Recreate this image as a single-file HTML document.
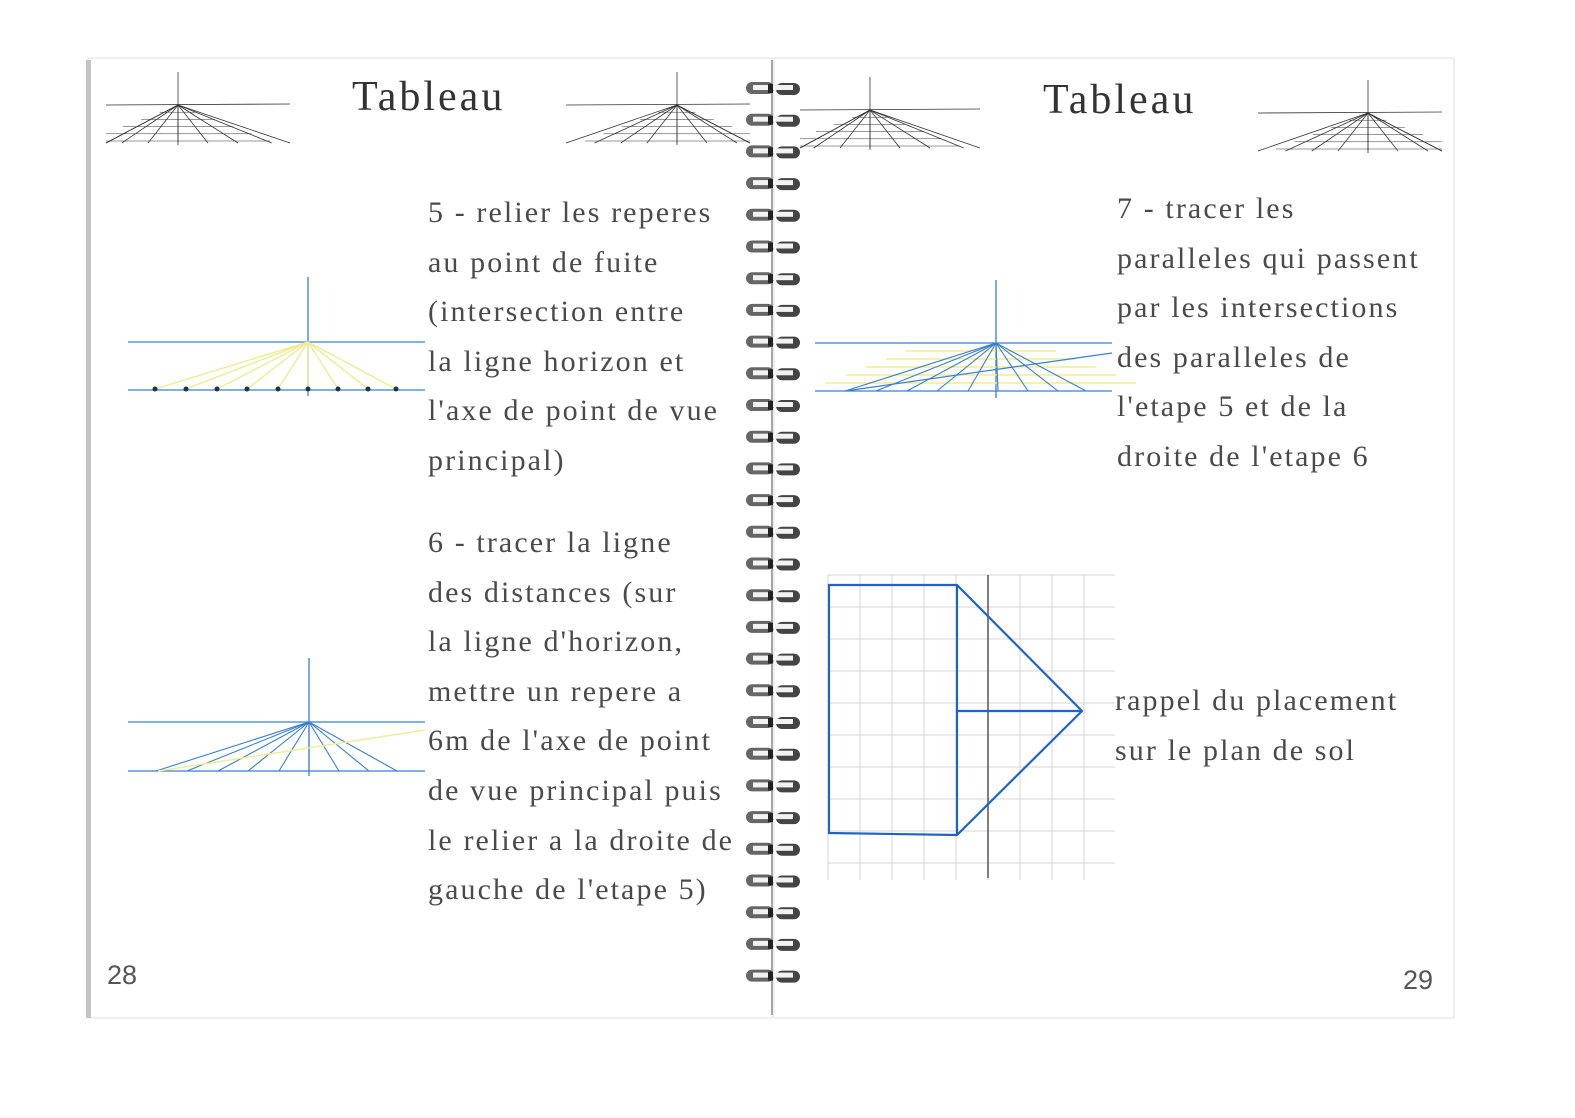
<!DOCTYPE html>
<html><head><meta charset="utf-8">
<style>
body{margin:0;width:1575px;height:1118px;background:#fff;position:relative;overflow:hidden;font-family:"Liberation Serif",serif}
.t{position:absolute;color:#4a4a4a;font-size:30px;line-height:49.6px;white-space:pre;font-family:"Liberation Serif",serif;letter-spacing:2.1px}
.title{position:absolute;font-size:42px;color:#333;font-family:"Liberation Serif",serif;letter-spacing:3px}
.num{position:absolute;font-size:27px;color:#555;font-family:"Liberation Sans",sans-serif}
svg{position:absolute;left:0;top:0}
</style></head><body>
<svg width="1575" height="1118">
 <g>
  <rect x="88" y="58" width="684" height="960" fill="#fff" stroke="#e2e2e2"/>
  <rect x="86" y="60" width="5" height="958" fill="#c4c4c4"/>
 </g>
 <rect x="774" y="58" width="680" height="960" fill="#fff" stroke="#e2e2e2"/>
 <line x1="772" y1="60" x2="772" y2="1015" stroke="#888" stroke-width="1.5"/>
 <g id="rings"></g>
 <g id="fans" stroke="#333" stroke-width="0.8" fill="none"></g>
 <g id="diag" fill="none"></g>
 <g id="grid"></g>
</svg>
<div class="title" style="left:352px;top:73px">Tableau</div>
<div class="title" style="left:1043px;top:76px">Tableau</div>
<div class="t" style="left:428px;top:188px">5 - relier les reperes
au point de fuite
(intersection entre
la ligne horizon et
l'axe de point de vue
principal)</div>
<div class="t" style="left:428px;top:518px">6 - tracer la ligne
des distances (sur
la ligne d'horizon,
mettre un repere a
6m de l'axe de point
de vue principal puis
le relier a la droite de
gauche de l'etape 5)</div>
<div class="t" style="left:1117px;top:184px">7 - tracer les
paralleles qui passent
par les intersections
des paralleles de
l'etape 5 et de la
droite de l'etape 6</div>
<div class="t" style="left:1115px;top:676px">rappel du placement
sur le plan de sol</div>
<div class="num" style="left:107px;top:960px">28</div>
<div class="num" style="left:1403px;top:965px">29</div>
<script>
const NS='http://www.w3.org/2000/svg';
function mk(p,tag,a){const e=document.createElementNS(NS,tag);for(const k in a)e.setAttribute(k,a[k]);p.appendChild(e);return e;}
const baseDots=[155,186,217,247,278,308,338,368,396];
const fanOffsets=[-150,-110,-75,-40,0,40,80,125,170];
const R=document.getElementById('rings');
for(let i=0;i<29;i++){const y=88+i*31.7;
 const g=mk(R,'g',{});
 
 
 mk(g,'rect',{x:746,y:y-6,width:28,height:12,rx:6,fill:'#666'});
 mk(g,'rect',{x:776,y:y-5,width:24,height:12,rx:6,fill:'#444'});
 mk(g,'rect',{x:753,y:y-3,width:40,height:5,fill:'#f2f2f2'});
 mk(g,'rect',{x:768,y:y-4,width:5,height:9,fill:'#222'});}
const F=document.getElementById('fans');
[[178,105,106,290],[677,105,566,750],[870,110,800,980],[1368,113,1258,1442]].forEach(([cx,cy,x0,x1])=>{
 mk(F,'line',{x1:x0,y1:cy,x2:x1,y2:cy-1});
 mk(F,'line',{x1:cx,y1:cy-33,x2:cx,y2:cy+40});
 const by=cy+38;
 fanOffsets.forEach(o=>{const bx=cx+o*0.75;mk(F,'line',{x1:cx,y1:cy,x2:Math.max(x0,Math.min(x1,bx)),y2:by});});
 for(let k=1;k<=5;k++){const y=cy+k*7.2;const w=(x1-x0)/2*k/5;mk(F,'line',{x1:Math.max(x0,cx-w),y1:y,x2:Math.min(x1,cx+w),y2:y,'stroke-width':0.5});}
});
const D=document.getElementById('diag');
const blue='#3a7fd0',yel='#f0ec9a';
function base(cx,hy,by,x0,x1,vt,vb){
 mk(D,'line',{x1:x0,y1:hy,x2:x1,y2:hy,stroke:blue,'stroke-width':1.3});
 mk(D,'line',{x1:x0,y1:by,x2:x1,y2:by,stroke:blue,'stroke-width':1.3});
 mk(D,'line',{x1:cx,y1:vt,x2:cx,y2:vb,stroke:blue,'stroke-width':1.3});}
base(308,342,390,128,425,277,396);
baseDots.forEach(x=>{mk(D,'line',{x1:308,y1:342,x2:x,y2:389,stroke:yel,'stroke-width':1.5});mk(D,'circle',{cx:x,cy:389,r:2.5,fill:'#234'});});
base(309,722,771,128,425,658,776);
baseDots.forEach(x=>{mk(D,'line',{x1:309,y1:722,x2:x+1,y2:771,stroke:blue,'stroke-width':1.1});});
mk(D,'line',{x1:158,y1:771,x2:425,y2:730,stroke:yel,'stroke-width':1.5});
base(996,343,391,815,1112,280,398);
for(let k=1;k<=5;k++){const y=343+k*8;const w=30+k*20;mk(D,'line',{x1:996-w-40,y1:y,x2:996+w+10,y2:y,stroke:yel,'stroke-width':1.5});}
baseDots.forEach(x=>{mk(D,'line',{x1:996,y1:343,x2:x+690,y2:391,stroke:blue,'stroke-width':1.1});});
mk(D,'line',{x1:845,y1:391,x2:1112,y2:353,stroke:blue,'stroke-width':1.2});
const G=document.getElementById('grid');
for(let x=828;x<=1115;x+=32)mk(G,'line',{x1:x,y1:575,x2:x,y2:880,stroke:'#d6d6d6','stroke-width':1});
for(let y=575;y<=880;y+=32)mk(G,'line',{x1:828,y1:y,x2:1115,y2:y,stroke:'#d6d6d6','stroke-width':1});
mk(G,'line',{x1:988,y1:575,x2:988,y2:878,stroke:'#555','stroke-width':1.5});
mk(G,'path',{d:'M829 585 L957 585 L1082 711 L957 835 L829 833 Z M957 585 L957 835 M957 711 L1082 711',fill:'none',stroke:'#1f63c9','stroke-width':2.2});
</script>
</body></html>
